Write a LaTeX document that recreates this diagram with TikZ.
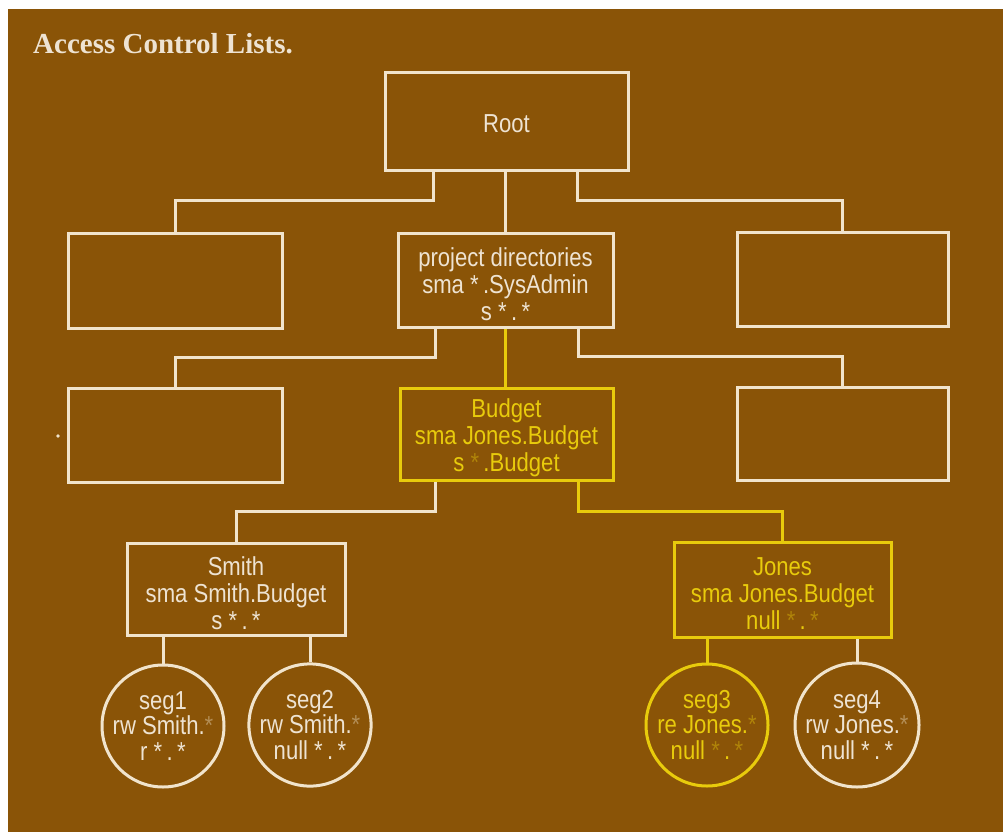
\documentclass[tikz,border=0pt]{standalone}
\usepackage{fontspec}
\newfontfamily\condsans[FakeStretch=0.85]{Liberation Sans}
\newfontfamily\headserif{Liberation Serif}
\definecolor{panel}{HTML}{8A5407}
\definecolor{chalk}{HTML}{F1E4CC}
\definecolor{chalktext}{HTML}{EEE3D2}
\definecolor{path}{HTML}{E8CB0C}
\colorlet{dimstar}{chalk!40!panel}
\colorlet{dimyellow}{path!40!panel}
\newcommand{\faintstar}{{\color{dimstar}*}}
\newcommand{\faintystar}{{\color{dimyellow}*}}
\tikzset{
  box/.style={draw=chalk, line width=3pt, rectangle, inner sep=0pt},
  hotbox/.style={box, draw=path},
  acl/.style={inner sep=0pt, text=chalktext, align=center,
    font=\condsans\fontsize{26}{27}\selectfont},
  hotacl/.style={acl, text=path},
  seg/.style={draw=chalk, line width=3pt, circle, minimum size=122pt,
    inner sep=0pt, text=chalktext, align=center,
    font=\condsans\fontsize{26}{25.5}\selectfont,
    execute at begin node={\rule{0pt}{24pt}}},
  hotseg/.style={seg, draw=path, text=path},
  link/.style={draw=chalk, line width=3pt},
  hotlink/.style={draw=path, line width=3pt},
}
\begin{document}
\begin{tikzpicture}[x=1pt, y=-1pt]
  \useasboundingbox (0,0) rectangle (1003,832);
  \fill[white] (0,0) rectangle (1003,832);
  \fill[panel] (8,9) rectangle (1003,832);

  \node[anchor=base west, text=chalktext, inner sep=0pt,
        font=\headserif\bfseries\fontsize{29}{31}\selectfont]
    (title) at (33,54) {Access Control Lists.};

  % directory boxes
  \node[box, minimum width=243pt, minimum height=97pt] (root) at (506.5,121.5) {};
  \node[box, minimum width=215pt, minimum height=94pt] (proj) at (505.5,280) {};
  \node[box, minimum width=214pt, minimum height=95pt] (l1) at (175,280.5) {};
  \node[box, minimum width=211pt, minimum height=94pt] (r1) at (842.5,279) {};
  \node[box, minimum width=214pt, minimum height=94pt] (l2) at (175,435) {};
  \node[box, minimum width=211pt, minimum height=93pt] (r2) at (842.5,433.5) {};
  \node[hotbox, minimum width=213pt, minimum height=92pt] (budget) at (506.5,434) {};
  \node[box, minimum width=218pt, minimum height=92pt] (smith) at (236,589) {};
  \node[hotbox, minimum width=217pt, minimum height=95pt] (jones) at (782.5,589.5) {};

  % directory names and access lists
  \node[acl] (roottxt) at ([yshift=-2pt]root.center) {Root};
  \node[acl] (projtxt) at ([yshift=-4.5pt]proj.center)
    {project directories\\sma *\,.SysAdmin\\s *\,.\,*};
  \node[hotacl] (budgettxt) at ([yshift=-4pt]budget.center)
    {Budget\\sma Jones.Budget\\s \faintystar\,.Budget};
  \node[acl] (smithtxt) at ([yshift=-4.5pt]smith.center)
    {Smith\\sma Smith.Budget\\s *\,.\,*};
  \node[hotacl] (jonestxt) at ([yshift=-4.5pt]jones.center)
    {Jones\\sma Jones.Budget\\null \faintystar\,.\,\faintystar};

  % segments
  \node[seg] (seg1) at (163,726) {seg1\\rw Smith.\faintstar\\r *\,.\,*};
  \node[seg] (seg2) at (310,725) {seg2\\rw Smith.\faintstar\\null *\,.\,*};
  \node[hotseg] (seg3) at (707,725) {seg3\\re Jones.\faintystar\\null \faintystar\,.\,\faintystar};
  \node[seg] (seg4) at (857,725) {seg4\\rw Jones.\faintstar\\null *\,.\,*};

  % connectors
  \draw[link] (root.south -| proj.north) -- (proj.north);
  \draw[link] ([xshift=-73pt]root.south) -- ++(0,29) -| (l1.north);
  \draw[link] ([xshift=71pt]root.south) -- ++(0,29) -| (r1.north);
  \draw[link] ([xshift=-70.5pt]proj.south) -- ++(0,29) -| (l2.north);
  \draw[link] ([xshift=72.5pt]proj.south) -- ++(0,28) -| (r2.north);
  \draw[hotlink] (proj.south) -- (proj.south |- budget.north);
  \draw[link] ([xshift=-71.5pt]budget.south) -- ++(0,30) -| (smith.north);
  \draw[hotlink] ([xshift=71.5pt]budget.south) -- ++(0,30) -| (jones.north);
  \draw[link] (seg1.north |- smith.south) -- (seg1.north);
  \draw[link] (seg2.north |- smith.south) -- (seg2.north);
  \draw[hotlink] (seg3.north |- jones.south) -- (seg3.north);
  \draw[link] (seg4.north |- jones.south) -- (seg4.north);

  \fill[chalk] (58,436) circle (1.8pt);
\end{tikzpicture}
\end{document}
